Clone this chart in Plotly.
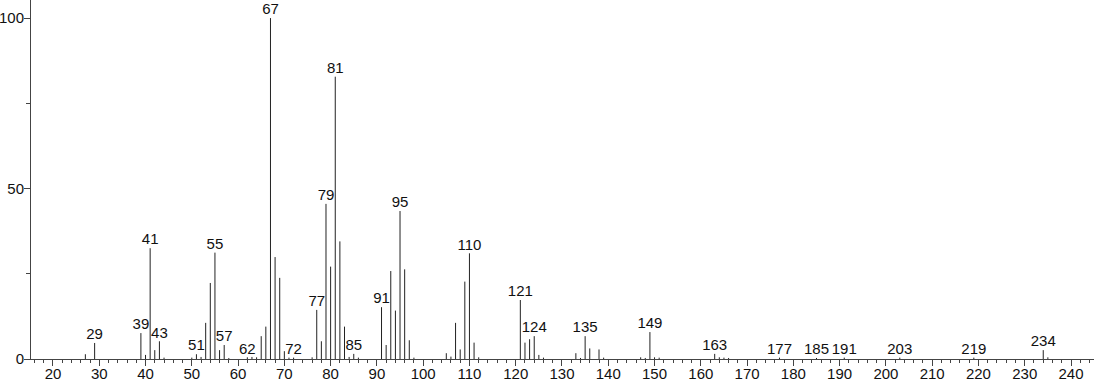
import plotly.graph_objects as go

masses = [27, 29, 39, 40, 41, 42, 43, 44, 50, 51, 52, 53, 54, 55, 56, 57, 58,
          62, 63, 64, 65, 66, 67, 68, 69, 70, 71, 72, 76, 77, 78, 79, 80, 81,
          82, 83, 84, 85, 86, 91, 92, 93, 94, 95, 96, 97, 98, 105, 106, 107,
          108, 109, 110, 111, 112, 121, 122, 123, 124, 125, 126, 133, 134, 135,
          136, 138, 139, 147, 148, 149, 150, 151, 163, 164, 165, 166, 177, 185,
          191, 203, 219, 234, 235]
intensities = [1.4, 4.7, 7.6, 1.2, 32.5, 2.6, 5.2, 0.4, 0.4, 1.4, 0.6, 10.6,
               22.3, 31.2, 2.6, 4.1, 0.3, 0.5, 0.6, 0.5, 6.7, 9.5, 100, 29.9,
               23.8, 2.3, 0.4, 0.4, 0.5, 14.4, 5.2, 45.5, 27.1, 82.8, 34.5, 9.5,
               0.6, 1.5, 0.4, 15.2, 4.1, 25.8, 14.2, 43.4, 26.3, 5.5, 0.4, 1.7,
               0.7, 10.6, 2.8, 22.7, 31.0, 4.8, 0.5, 17.3, 4.8, 5.8, 6.7, 1.2,
               0.4, 1.7, 0.3, 6.7, 3.1, 2.8, 0.4, 0.5, 0.3, 7.9, 0.5, 0.4, 1.5,
               0.5, 0.4, 0.3, 0.4, 0.3, 0.4, 0.4, 0.4, 2.6, 0.5]
labeled = [29, 39, 41, 43, 51, 55, 57, 62, 67, 72, 77, 79, 81, 85, 91, 95, 110,
           121, 124, 135, 149, 163, 177, 185, 191, 203, 219, 234]
x_ticks = list(range(20, 250, 10))
y_ticks = [0, 50, 100]

xs, ys = [], []
for m, v in zip(masses, intensities):
    xs += [m, m, None]
    ys += [0, v, None]

lookup = dict(zip(masses, intensities))
lab_x = labeled
lab_y = [lookup[m] for m in labeled]

FONT = "Liberation Sans, Arial"

fig = go.Figure()
fig.add_trace(go.Scatter(x=xs, y=ys, mode="lines",
                         line=dict(color="#222222", width=1),
                         hoverinfo="skip", showlegend=False))
fig.add_trace(go.Scatter(x=lab_x, y=lab_y, mode="text",
                         text=[str(m) for m in lab_x],
                         textposition="top center",
                         textfont=dict(family=FONT, size=15, color="#111"),
                         showlegend=False, hoverinfo="skip"))

fig.update_layout(
    width=1094, height=384,
    margin=dict(l=31, r=0, t=0, b=25, autoexpand=False),
    paper_bgcolor="white", plot_bgcolor="white",
    font=dict(family=FONT, size=15, color="#111"),
    xaxis=dict(range=[15.25, 244.97], tickvals=x_ticks,
               ticks="outside", ticklen=6, tickcolor="#444", tickwidth=1,
               showline=True, linecolor="#444", linewidth=1,
               showgrid=False, zeroline=False, automargin=False,
               ticklabelstandoff=-5,
               minor=dict(dtick=2, tick0=0, ticks="outside", ticklen=3,
                          tickcolor="#444", showgrid=False)),
    yaxis=dict(range=[0, 105.3], tickvals=y_ticks,
               ticks="outside", ticklen=6, tickcolor="#444", tickwidth=1,
               showline=True, linecolor="#444", linewidth=1,
               showgrid=False, zeroline=False, automargin=False,
               ticklabelstandoff=-3,
               minor=dict(dtick=25, tick0=0, ticks="outside", ticklen=4,
                          tickcolor="#444", showgrid=False)),
)

fig.write_html("out.html", config={"displayModeBar": False},
               post_script="document.body.style.margin='0';document.body.style.overflow='hidden';")
